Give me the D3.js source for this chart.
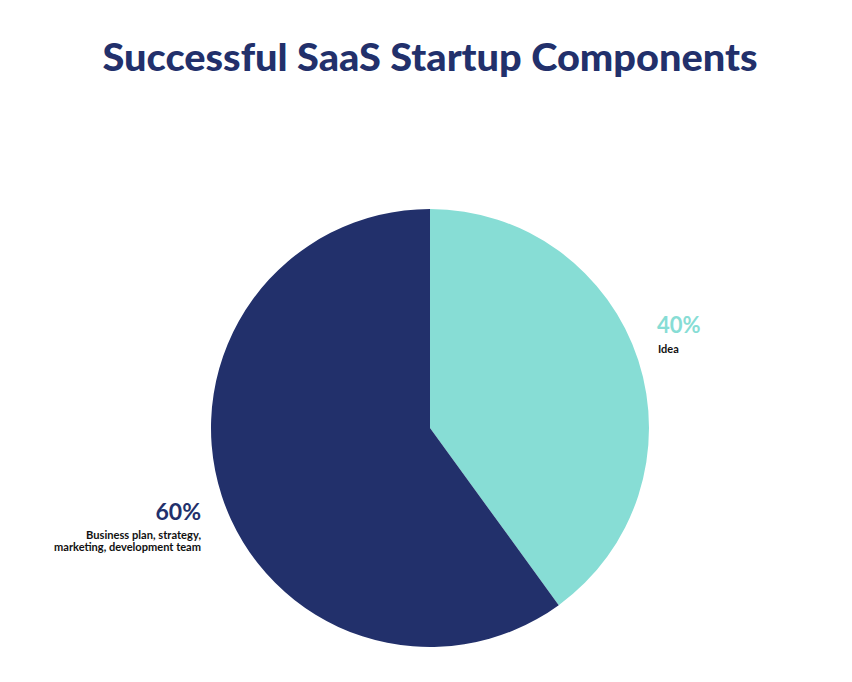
<!DOCTYPE html>
<html><head><meta charset="utf-8">
<script src="https://cdn.jsdelivr.net/npm/d3@7"></script>
<style>body{margin:0;background:#fff}</style>
</head><body>
<svg id="c" width="852" height="682"></svg>
<script>
const categories = ["Idea", "Business plan, strategy, marketing, development team"];
const values = [40, 60];
const percentLabels = ["40%", "60%"];
const colors = ["#87ddd5", "#22306b"];
const title = "Successful SaaS Startup Components";

const svg = d3.select("#c");
const W = 852, H = 682;
svg.append("rect").attr("width", W).attr("height", H).attr("fill", "#fff");

svg.append("text").attr("x", 430).attr("y", 71).attr("text-anchor", "middle")
  .attr("font-family", "Lato, 'DejaVu Sans', sans-serif").attr("font-weight", 900)
  .attr("font-size", 38).attr("fill", "#22306b")
  .attr("textLength", 655).attr("lengthAdjust", "spacingAndGlyphs")
  .text(title);

const cx = 430, cy = 428, r = 219;
const pie = d3.pie().sort(null).value(d => d)(values);
const arc = d3.arc().innerRadius(0).outerRadius(r);
const g = svg.append("g").attr("transform", `translate(${cx},${cy})`);
g.selectAll("path").data(pie).join("path").attr("d", arc).attr("fill", (d, i) => colors[i]);

const lab = svg.append("g").attr("font-family", "Lato, 'DejaVu Sans', sans-serif");
lab.append("text").attr("x", 657).attr("y", 333).attr("font-size", 22).attr("font-weight", 700)
  .attr("fill", colors[0]).text(percentLabels[0]);
lab.append("text").attr("x", 658).attr("y", 353).attr("font-size", 11).attr("font-weight", 700)
  .attr("fill", "#111").text(categories[0]);

lab.append("text").attr("x", 201).attr("y", 520).attr("text-anchor", "end").attr("font-size", 23).attr("font-weight", 700)
  .attr("fill", colors[1]).text(percentLabels[1]);
const lines = ["Business plan, strategy,", "marketing, development team"];
const widths = [115, 147];
lab.selectAll("text.l").data(lines).join("text").attr("class", "l")
  .attr("x", 201).attr("y", (d, i) => 539 + i * 11.5).attr("text-anchor", "end")
  .attr("font-size", 10.5).attr("font-weight", 700).attr("fill", "#111")
  .attr("textLength", (d, i) => widths[i]).attr("lengthAdjust", "spacingAndGlyphs")
  .text(d => d);
</script>
</body></html>
